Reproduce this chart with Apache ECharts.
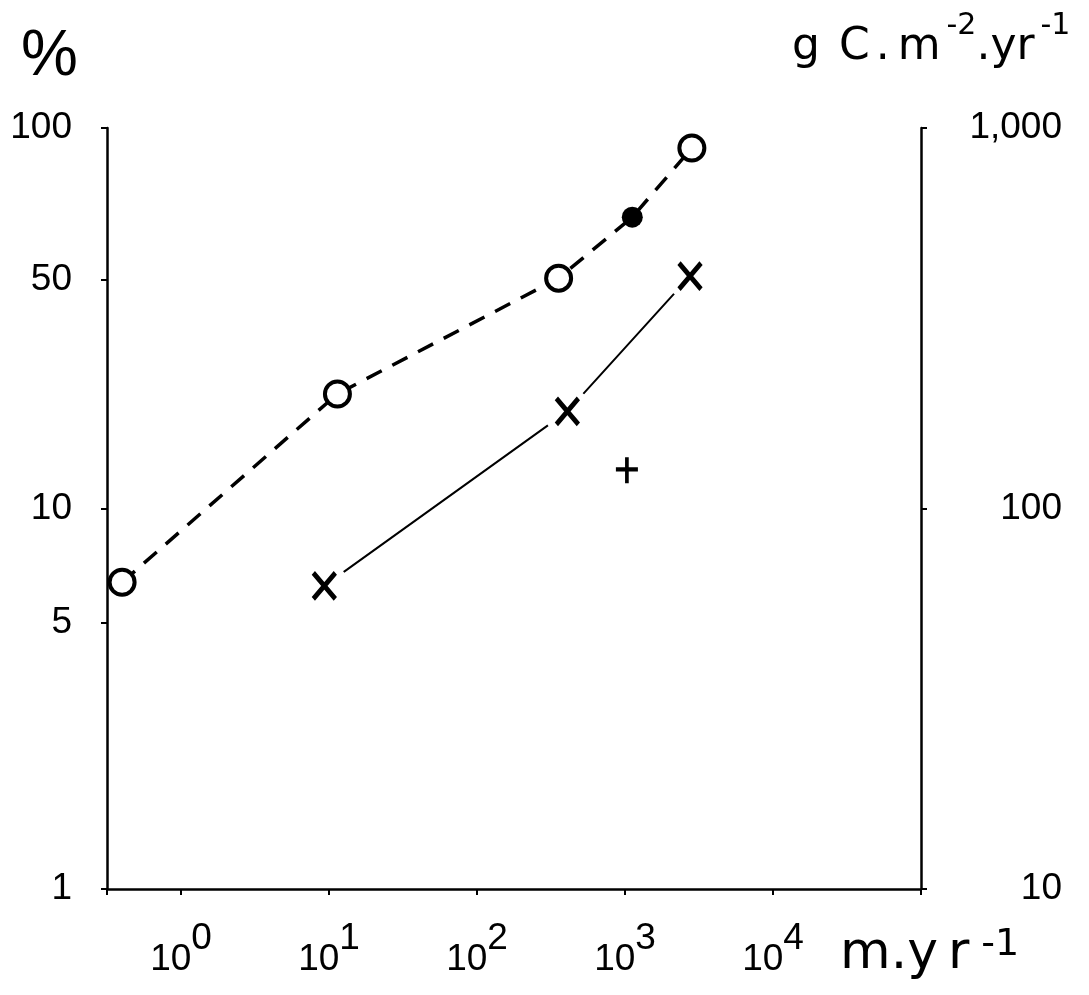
<!DOCTYPE html>
<html>
<head>
<meta charset="utf-8">
<script src="https://cdn.jsdelivr.net/npm/echarts@6/dist/echarts.min.js"></script>
<style>
  html, body { margin: 0; background: #fff; }
  #chart { width: 1089px; height: 995px; }
</style>
</head>
<body>
<div id="chart"></div>
<script>
// open circles, % (left axis), joined by the dashed line
var openX = [0.40, 11.4, 356, 2830];
var openY = [6.4, 20.0, 40.3, 88.6];
// filled dot, also on the dashed line
var dotX = [1120];
var dotY = [58.3];
// crosses, gC.m-2.yr-1 (right axis), joined by the solid line
var crossX = [9.3, 408, 2750];
var crossY = [62.6, 180, 408];
// lone plus, right axis
var plusX = [1030];
var plusY = [126];

// tick labels
var xTickExp = [0, 1, 2, 3, 4];
// the original drew its "50" tick where a true log scale reads ~40
var leftTickVals = [1, 5, 10, 40, 100];
var leftTickLabels = ['1', '5', '10', '50', '100'];
var rightTickVals = [10, 100, 1000];
var rightTickLabels = ['10', '100', '1,000'];

var FONT = 'Liberation Sans';
var WIDE = 'DejaVu Sans';
var lg = Math.log10;

function pts(xs, ys) {
  return xs.map(function (x, i) { return [x, lg(ys[i])]; });
}
function tickLabel(vals, labels) {
  return function (v) {
    for (var i = 0; i < vals.length; i++) {
      if (Math.abs(lg(vals[i]) - v) < 1e-6) return labels[i];
    }
    return '';
  };
}

// dashed line runs through circles and the dot, in x order
var pctLine = pts(openX.concat(dotX), openY.concat(dotY))
  .sort(function (a, b) { return a[0] - b[0]; });

var chart = echarts.init(document.getElementById('chart'));

var axisLine = { lineStyle: { color: '#000', width: 2.5 } };
var axisTick = { length: 6, lineStyle: { color: '#000', width: 2 } };

function big(pad) {
  return { fontSize: 44, fontFamily: WIDE, lineHeight: 73, padding: [0, 0, 0, pad] };
}
function sup(pad, size) {
  return { fontSize: size, fontFamily: WIDE, lineHeight: size, verticalAlign: 'top', padding: [0, 0, 0, pad] };
}
function unit(pad) {
  return { fontSize: 52, fontFamily: WIDE, lineHeight: 56, padding: [0, 0, 0, pad] };
}

var option = {
  animation: false,
  grid: { left: 107, right: 168, top: 128, bottom: 106, containLabel: false, outerBoundsMode: 'none' },
  xAxis: {
    type: 'log',
    logBase: 10,
    min: Math.pow(10, -0.5),
    max: 1e5,
    axisLine: axisLine,
    axisTick: axisTick,
    splitLine: { show: false },
    axisLabel: {
      margin: 31,
      color: '#000',
      formatter: function (v) {
        var e = Math.round(lg(v));
        if (Math.abs(lg(v) - e) > 1e-6 || xTickExp.indexOf(e) < 0) return '';
        return '{b|10}{s|' + e + '}';
      },
      rich: {
        b: { fontSize: 37, fontFamily: FONT, lineHeight: 80, color: '#000' },
        s: { fontSize: 37, fontFamily: FONT, lineHeight: 37, verticalAlign: 'top', color: '#000' }
      }
    }
  },
  yAxis: [
    {
      type: 'value',
      min: 0,
      max: 2,
      axisLine: axisLine,
      axisTick: Object.assign({ customValues: leftTickVals.map(lg) }, axisTick),
      splitLine: { show: false },
      axisLabel: {
        customValues: leftTickVals.map(lg),
        formatter: tickLabel(leftTickVals, leftTickLabels),
        margin: 35,
        fontSize: 37,
        fontFamily: FONT,
        padding: [6, 0, 0, 0],
        color: '#000'
      }
    },
    {
      type: 'value',
      position: 'right',
      min: 1,
      max: 3,
      axisLine: axisLine,
      axisTick: Object.assign({ customValues: rightTickVals.map(lg) }, axisTick),
      splitLine: { show: false },
      axisLabel: {
        customValues: rightTickVals.map(lg),
        formatter: tickLabel(rightTickVals, rightTickLabels),
        align: 'right',
        margin: 141,
        fontSize: 37,
        fontFamily: FONT,
        padding: [14, 0, 0, 0],
        color: '#000'
      }
    }
  ],
  graphic: [
    {
      type: 'text', left: 21, top: 25,
      style: { text: '%', font: '64px ' + FONT, fill: '#000' }
    },
    {
      type: 'text', left: 792, top: 11,
      style: {
        text: '{a|g}{c|C}{d|.}{m|m}{s2|-2}{a|.y}{a|r}{s1|-1}',
        fill: '#000',
        rich: {
          a: big(0), c: big(19), d: big(6), m: big(8),
          s2: sup(6, 30), s1: sup(6, 30)
        }
      }
    },
    {
      type: 'text', left: 840, top: 926,
      style: {
        text: '{a|m}{a|.}{a|y}{r|r}{s|-1}',
        fill: '#000',
        rich: {
          a: unit(0), r: unit(10), s: sup(12, 38)
        }
      }
    }
  ],
  series: [
    {
      type: 'line',
      yAxisIndex: 0,
      data: pctLine,
      symbol: 'none',
      lineStyle: { color: '#000', width: 3.5, type: [17, 12] },
      z: 2,
      silent: true
    },
    {
      type: 'scatter',
      yAxisIndex: 0,
      data: pts(openX, openY),
      symbol: 'circle',
      symbolSize: 25,
      itemStyle: { color: '#fff', borderColor: '#000', borderWidth: 4, opacity: 1 },
      z: 5
    },
    {
      type: 'scatter',
      yAxisIndex: 0,
      data: pts(dotX, dotY),
      symbol: 'circle',
      symbolSize: 21,
      itemStyle: { color: '#000', opacity: 1 },
      z: 5
    },
    {
      type: 'line',
      yAxisIndex: 1,
      data: pts(crossX, crossY),
      symbol: 'none',
      lineStyle: { color: '#000', width: 2 },
      z: 2,
      silent: true
    },
    {
      // white gap round each cross, as in the drawing
      type: 'scatter',
      yAxisIndex: 1,
      data: pts(crossX, crossY),
      symbol: 'circle',
      symbolSize: 48,
      itemStyle: { color: '#fff', opacity: 1 },
      z: 4,
      silent: true
    },
    {
      type: 'scatter',
      yAxisIndex: 1,
      data: pts(crossX, crossY),
      symbol: 'path://M0,0L22,26M22,0L0,26',
      symbolSize: [22, 26],
      itemStyle: { color: '#000', borderColor: '#000', borderWidth: 5, opacity: 1 },
      z: 5
    },
    {
      type: 'scatter',
      yAxisIndex: 1,
      data: pts(plusX, plusY),
      symbol: 'path://M11,0L11,26M0,12L22,12',
      symbolSize: [22, 26],
      itemStyle: { color: '#000', borderColor: '#000', borderWidth: 4, opacity: 1 },
      z: 5
    }
  ]
};

chart.setOption(option);
</script>
</body>
</html>
